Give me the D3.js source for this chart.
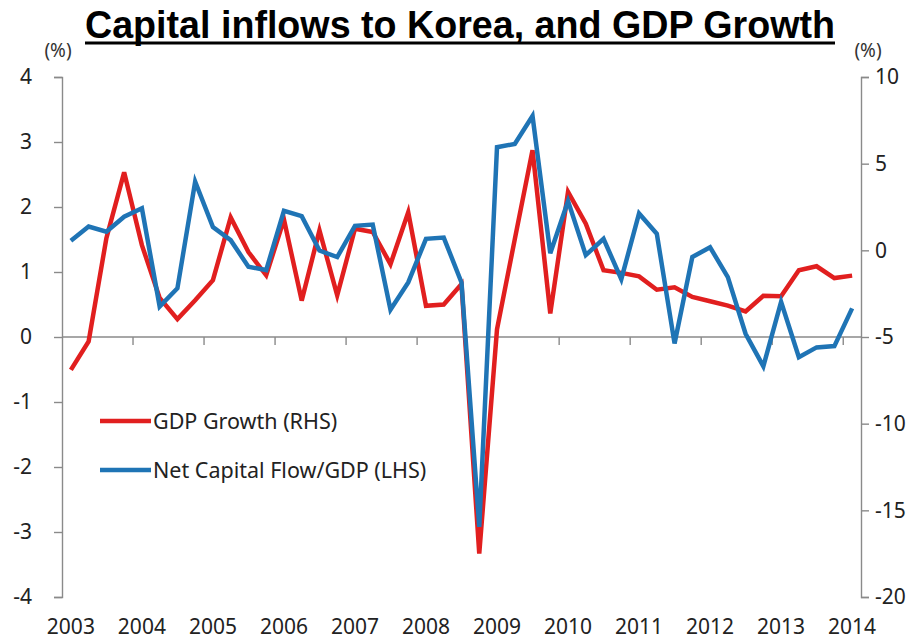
<!DOCTYPE html>
<html>
<head>
<meta charset="utf-8">
<script src="https://cdn.jsdelivr.net/npm/d3@7/dist/d3.min.js"></script>
<style>
  html, body { margin: 0; padding: 0; background: #fff; }
  svg { display: block; }
  text { font-family: "Noto Sans", "Open Sans", sans-serif; fill: #222; }
</style>
</head>
<body>
<svg id="chart" width="917" height="642"></svg>
<script>
// Quarterly observations, 2003Q1 – 2014Q1
const years = d3.range(2003, 2015);
const quarters = [];
years.forEach(y => [1, 2, 3, 4].forEach(q => quarters.push(y + "Q" + q)));
quarters.length = 45;

// Net capital flow as % of GDP (left axis)
const capitalFlow = [
  1.48, 1.70, 1.62, 1.85, 1.98, 0.47, 0.75, 2.39,
  1.69, 1.49, 1.08, 1.03, 1.94, 1.86, 1.33, 1.23,
  1.71, 1.73, 0.42, 0.84, 1.51, 1.53, 0.84, -2.92,
  2.92, 2.97, 3.40, 1.29, 2.09, 1.26, 1.51, 0.89,
  1.90, 1.59, -0.10, 1.23, 1.38, 0.92, 0.05, -0.45,
  0.54, -0.31, -0.16, -0.14, 0.44
];

// GDP growth, % (right axis)
const gdpGrowth = [
  -6.9, -5.25, 0.7, 4.5, 0.3, -2.75, -3.97, -2.88,
  -1.72, 1.9, -0.1, -1.44, 1.78, -2.9, 1.15, -2.6,
  1.25, 1.06, -0.8, 2.2, -3.2, -3.13, -1.95, -17.5,
  -4.55, 0.63, 5.78, -3.64, 3.37, 1.54, -1.15, -1.3,
  -1.5, -2.27, -2.13, -2.69, -2.94, -3.19, -3.52, -2.62,
  -2.65, -1.15, -0.92, -1.6, -1.46
];

const leftTicks = [-4, -3, -2, -1, 0, 1, 2, 3, 4];
const rightTicks = [-20, -15, -10, -5, 0, 5, 10];

const titleText = "Capital inflows to Korea, and GDP Growth";
const legendItems = [
  { label: "GDP Growth (RHS)", color: "#E11F1F" },
  { label: "Net Capital Flow/GDP (LHS)", color: "#1F74B5" }
];

const svg = d3.select("#chart");
const margin = { left: 62, right: 56, top: 77, bottom: 45 };
const W = 917, H = 642;
const axisColor = "#8a8a8a";

const x = d3.scaleBand().domain(quarters).range([margin.left, W - margin.right]).padding(0);
const yL = d3.scaleLinear().domain([-4, 4]).range([H - margin.bottom, margin.top]);
const yR = d3.scaleLinear().domain([-20, 10]).range([H - margin.bottom, margin.top]);
const cx = q => x(q) + x.bandwidth() / 2;
const plain = d => String(d);

// Title with underline
svg.append("text")
  .attr("x", 460).attr("y", 38)
  .attr("text-anchor", "middle")
  .style("font-family", "'Liberation Sans Narrow', 'Arial Narrow', sans-serif")
  .style("font-weight", "bold")
  .style("font-size", "38px")
  .style("fill", "#000")
  .attr("textLength", 750)
  .attr("lengthAdjust", "spacingAndGlyphs")
  .text(titleText);
svg.append("line")
  .attr("x1", 85).attr("x2", 835).attr("y1", 43).attr("y2", 43)
  .attr("stroke", "#000").attr("stroke-width", 3);

// Unit labels
svg.append("text").attr("x", 58).attr("y", 57).attr("text-anchor", "middle")
  .style("font-size", "19px").style("fill", "#333").text("(%)");
svg.append("text").attr("x", 868).attr("y", 57).attr("text-anchor", "middle")
  .style("font-size", "19px").style("fill", "#333").text("(%)");

// Left axis
const gL = svg.append("g").attr("transform", `translate(${margin.left},0)`)
  .call(d3.axisLeft(yL).tickValues(leftTicks).tickSize(8).tickFormat(plain));
// Right axis
const gR = svg.append("g").attr("transform", `translate(${W - margin.right},0)`)
  .call(d3.axisRight(yR).tickValues(rightTicks).tickSize(8).tickPadding(6).tickFormat(plain));

[gL, gR].forEach(g => {
  g.select(".domain").attr("stroke", axisColor).attr("stroke-width", 1.4);
  g.selectAll(".tick line").attr("stroke", axisColor).attr("stroke-width", 1.4);
  g.selectAll(".tick text").style("font-size", "21px").style("fill", "#222")
    .style("font-family", "'Noto Sans', sans-serif");
});
gL.selectAll(".tick text").attr("text-anchor", "end").attr("x", -30);

// Category axis at zero on the left scale
const y0 = yL(0);
const gX = svg.append("g");
gX.append("line")
  .attr("x1", margin.left).attr("x2", W - margin.right)
  .attr("y1", y0).attr("y2", y0)
  .attr("stroke", axisColor).attr("stroke-width", 1.4);
const yearStarts = quarters.filter(q => q.endsWith("Q1"));
gX.selectAll("line.tick").data(yearStarts.slice(1)).join("line")
  .attr("class", "tick")
  .attr("x1", d => x(d)).attr("x2", d => x(d))
  .attr("y1", y0).attr("y2", y0 + 8)
  .attr("stroke", axisColor).attr("stroke-width", 1.4);
gX.selectAll("text").data(yearStarts).join("text")
  .attr("x", d => cx(d)).attr("y", 634)
  .attr("text-anchor", "middle")
  .style("font-size", "21px").style("fill", "#222")
  .text(d => d.slice(0, 4));

// Series lines
const lineL = d3.line().x((d, i) => cx(quarters[i])).y(d => yL(d));
const lineR = d3.line().x((d, i) => cx(quarters[i])).y(d => yR(d));

svg.append("path").datum(gdpGrowth)
  .attr("d", lineR).attr("fill", "none")
  .attr("stroke", legendItems[0].color).attr("stroke-width", 4.5)
  .attr("stroke-linejoin", "miter").attr("stroke-miterlimit", 4);
svg.append("path").datum(capitalFlow)
  .attr("d", lineL).attr("fill", "none")
  .attr("stroke", legendItems[1].color).attr("stroke-width", 4.5)
  .attr("stroke-linejoin", "miter").attr("stroke-miterlimit", 4);

// Legend
const lg = svg.append("g");
legendItems.forEach((it, i) => {
  const ly = 421 + i * 49;
  lg.append("line").attr("x1", 100).attr("x2", 151).attr("y1", ly).attr("y2", ly)
    .attr("stroke", it.color).attr("stroke-width", 4.5);
  lg.append("text").attr("x", 153).attr("y", ly + 8)
    .style("font-size", "21.5px").style("fill", "#222").text(it.label);
});
</script>
</body>
</html>
